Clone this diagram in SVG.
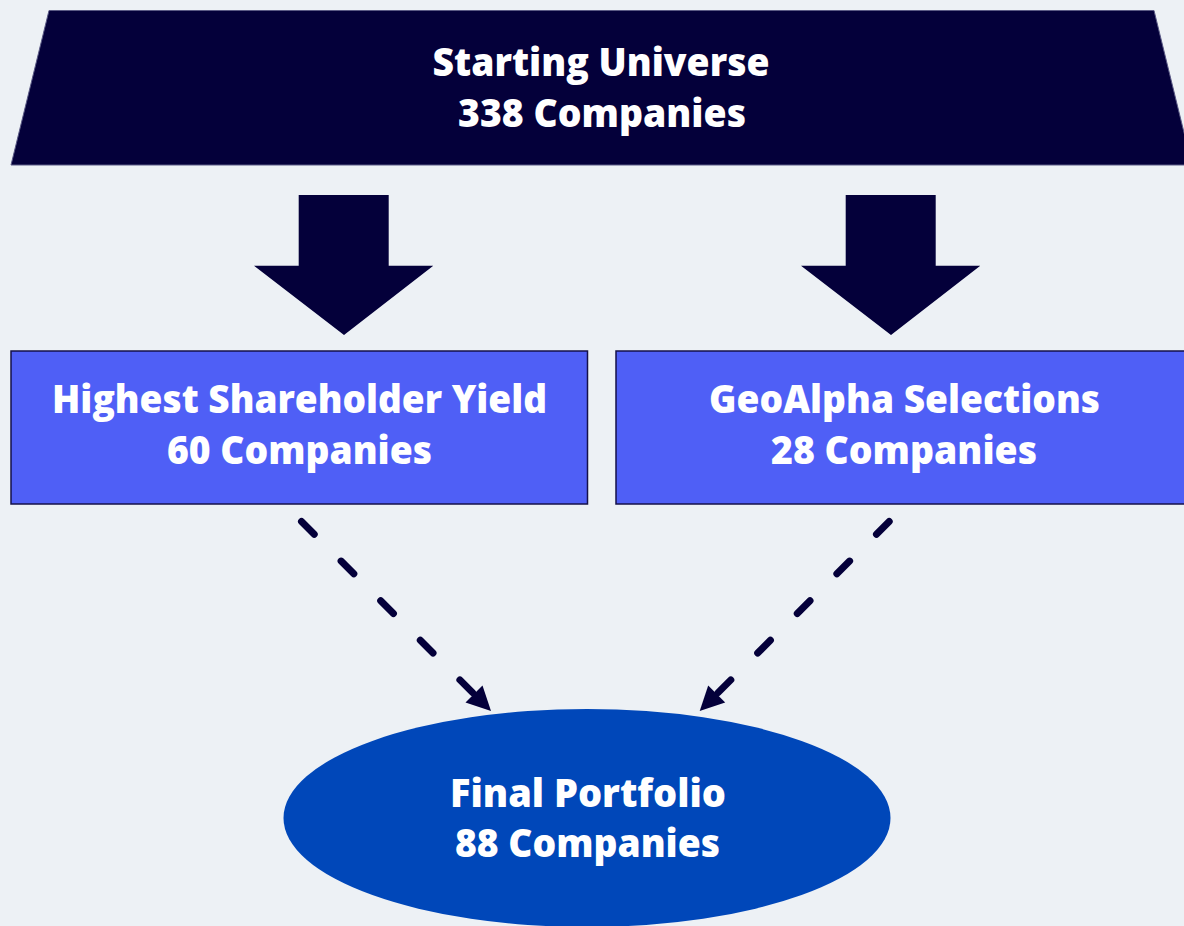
<svg xmlns="http://www.w3.org/2000/svg" width="1184" height="926" viewBox="0 0 1184 926">
  <defs>
    <style>
      .lbl { font-family: "Open Sans", "Lato", "Liberation Sans", sans-serif; font-weight: 800; font-size: 39px; fill: #ffffff; text-anchor: middle; font-variant-ligatures: none; }
      .navy { fill: #04003a; }
      .box { fill: #4f5ff6; stroke: #14104a; stroke-width: 1.5; }
      .dash { fill: none; stroke: #04003a; stroke-width: 7; stroke-linecap: round; stroke-dasharray: 18 38; }
    </style>
  </defs>

  <rect width="1184" height="926" fill="#edf1f5"/>

  <!-- top funnel band -->
  <g id="node-universe">
    <polygon class="navy" points="49,10.5 1154,10.5 1192,165 11,165" stroke="#5b5a85" stroke-width="1"/>
    <text class="lbl" x="601" y="76" textLength="337" lengthAdjust="spacingAndGlyphs">Starting Universe</text>
    <text class="lbl" x="602" y="127" textLength="288" lengthAdjust="spacingAndGlyphs">338 Companies</text>
  </g>

  <g id="node-yield">
    <rect class="box" x="11" y="351" width="576.5" height="153"/>
    <text class="lbl" x="299.5" y="413" textLength="495" lengthAdjust="spacingAndGlyphs">Highest Shareholder Yield</text>
    <text class="lbl" x="299.5" y="464" textLength="265" lengthAdjust="spacingAndGlyphs">60 Companies</text>
  </g>

  <g id="node-geoalpha">
    <rect class="box" x="616" y="351" width="590" height="153"/>
    <text class="lbl" x="904.5" y="413" textLength="391" lengthAdjust="spacingAndGlyphs">GeoAlpha Selections</text>
    <text class="lbl" x="904" y="464" textLength="266" lengthAdjust="spacingAndGlyphs">28 Companies</text>
  </g>

  <g id="node-portfolio">
    <ellipse cx="587" cy="818" rx="303.5" ry="109" fill="#0047b9"/>
    <text class="lbl" x="588" y="807" textLength="276" lengthAdjust="spacingAndGlyphs">Final Portfolio</text>
    <text class="lbl" x="587.5" y="857" textLength="265" lengthAdjust="spacingAndGlyphs">88 Companies</text>
  </g>

  <g id="connectors">
    <!-- block arrows from the universe band -->
    <polygon class="navy" points="298.7,195 388.7,195 388.7,265.7 433.3,265.7 344,335 254,265.7 298.7,265.7"/>
    <polygon class="navy" points="845.7,195 935.7,195 935.7,265.7 980.3,265.7 891,335 801,265.7 845.7,265.7"/>
    <!-- dashed arrows into the final portfolio -->
    <path class="dash" d="M301.5,521.5 L476,696"/>
    <polygon class="navy" points="491,711 482.5,685.5 465.5,702.5"/>
    <path class="dash" d="M889.2,521.5 L714.7,696"/>
    <polygon class="navy" points="699.7,711 708.2,685.5 725.2,702.5"/>
  </g>
</svg>
